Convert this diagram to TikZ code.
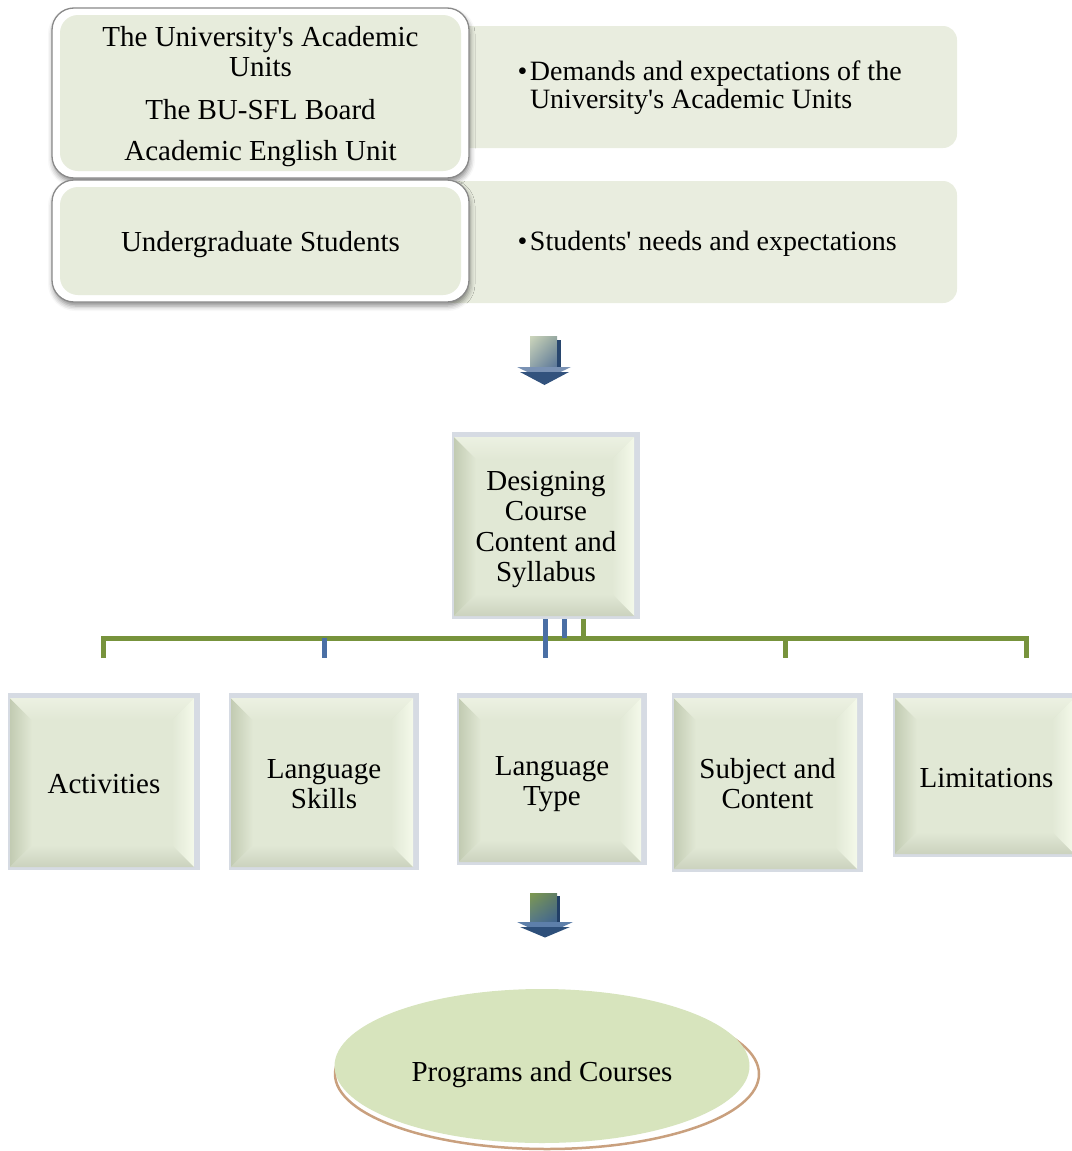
\documentclass[tikz,border=0pt]{standalone}
\usepackage{fontspec}
\setmainfont{Liberation Serif}
\usetikzlibrary{shapes.geometric,shadows.blur,shadings,calc}

\definecolor{needFill}{HTML}{E9EDDF}
\definecolor{srcFill}{HTML}{E7ECDC}
\definecolor{srcBorder}{HTML}{8A8A8A}
\definecolor{bevFrame}{HTML}{D6DBE3}
\definecolor{bevFace}{HTML}{E1E8D5}
\definecolor{bevL}{HTML}{C2CBB2}
\definecolor{bevT}{HTML}{ECF1E2}
\definecolor{bevR}{HTML}{F4F9EA}
\definecolor{bevB}{HTML}{CBD2BE}
\definecolor{busGreen}{HTML}{77933C}
\definecolor{busBlue}{HTML}{4A6FA5}
\definecolor{progFill}{HTML}{D7E4BD}
\definecolor{progEdge}{HTML}{C9A07E}
% down-arrow colours
\definecolor{aUL}{HTML}{CDD6BC}
\definecolor{aUR}{HTML}{96A8A0}
\definecolor{aLL}{HTML}{8CA0A8}
\definecolor{aLR}{HTML}{557298}
\definecolor{aEdge}{HTML}{28466E}
\definecolor{aHeadL}{HTML}{7A92B4}
\definecolor{aHeadD}{HTML}{32527D}
\definecolor{bUL}{HTML}{7E9950}
\definecolor{bUR}{HTML}{607E64}
\definecolor{bLL}{HTML}{56788A}
\definecolor{bLR}{HTML}{3D6290}
\definecolor{bEdge}{HTML}{213F66}
\definecolor{bHeadL}{HTML}{5D7FAA}
\definecolor{bHeadD}{HTML}{2D4F7A}

\newcommand\bigtxt{\fontsize{29}{30.5}\selectfont}
\newcommand\midtxt{\fontsize{28}{28}\selectfont}
\newcommand\apos{\textquotesingle}
\newcommand\bul{\textbullet\hspace{2.5pt}}

\tikzset{
  srcbox/.style={rectangle, rounded corners=22, draw=srcBorder, line width=1.3,
    fill=white, inner sep=0pt,
    blur shadow={shadow xshift=1pt, shadow yshift=-4pt,
      shadow blur radius=5pt, shadow opacity=45},
    path picture={
      \path (path picture bounding box.north west) ++(8,7) coordinate (gA);
      \path (path picture bounding box.south east) ++(-8,-7) coordinate (gC);
      \fill[srcFill, rounded corners=18] (gA) rectangle (gC);
    }},
  needbox/.style={rectangle, rounded corners=14, fill=needFill, inner sep=0pt},
  needtxt/.style={inner sep=0pt, align=left, font=\midtxt, anchor=west},
  boxtxt/.style={inner sep=0pt, align=center, font=\bigtxt},
  bevelbox/.style={rectangle, inner sep=0pt, fill=bevFrame,
    path picture={
      \path (path picture bounding box.north west) ++(2,5) coordinate (fA);
      \path (path picture bounding box.south east) ++(-6,-3) coordinate (fC);
      \path (fA) ++(22,22) coordinate (iA);
      \path (fC) ++(-22,-22) coordinate (iC);
      \fill[bevFace] (fA) rectangle (fC);
      \shade[left color=bevL, right color=bevFace]
        (fA) -- (iA) -- (iA |- iC) -- (fA |- fC) -- cycle;
      \shade[top color=bevT, bottom color=bevFace]
        (fA) -- (fC |- fA) -- (iC |- iA) -- (iA) -- cycle;
      \shade[left color=bevFace, right color=bevR]
        (fC |- fA) -- (fC) -- (iC) -- (iC |- iA) -- cycle;
      \shade[top color=bevFace, bottom color=bevB]
        (fA |- fC) -- (iA |- iC) -- (iC) -- (fC) -- cycle;
    }},
  gline/.style={draw=busGreen, line width=5pt},
  bline/.style={draw=busBlue, line width=5pt},
}

\begin{document}
\begin{tikzpicture}[x=1pt, y=-1pt]
\useasboundingbox (0,0) rectangle (1071,1151);

% needs panels on the right
\node[needbox, minimum width=517, minimum height=122] (demB) at (698.5,87) {};
\node[needbox, minimum width=517, minimum height=122] (stuB) at (698.5,242) {};
\node[needtxt] (demT) at (517.5,87.5)
  {\bul Demands and expectations of the\\\hphantom{\bul}University\apos s Academic Units};
\node[needtxt] (stuT) at (517.5,243.5) {\bul Students\apos{} needs and expectations};

% stakeholder boxes on the left
\node[srcbox, minimum width=417, minimum height=170] (units) at (260.5,93) {};
\node[srcbox, minimum width=417, minimum height=122] (students) at (260.5,241) {};
\node[boxtxt] (unitsT) at ($(units)+(0,3.5)$)
  {The University\apos s Academic\\Units\\[12.5pt]The BU-SFL Board\\[10.5pt]Academic English Unit};
\node[boxtxt] (studentsT) at ($(students)+(0,4)$) {Undergraduate Students};

% first down arrow
\shade[upper left=aUL, upper right=aUR, lower left=aLL, lower right=aLR]
  (530,336) rectangle (557,370);
\fill[aEdge] (557,340) rectangle (561,370);
\fill[aHeadL] (517,367) -- (571,367) -- (544,380) -- cycle;
\fill[aHeadD] (520,372) -- (569,372) -- (544.5,385) -- cycle;

% central design box
\node[bevelbox, minimum width=188, minimum height=187] (design) at (546,525.5) {};
\node[boxtxt] (designT) at ($(design)+(0,4)$) {Designing\\Course\\Content and\\Syllabus};

% component boxes
\node[bevelbox, minimum width=192, minimum height=177] (act) at (104,781.5) {};
\node[bevelbox, minimum width=190, minimum height=177] (lskill) at (324,781.5) {};
\node[bevelbox, minimum width=190, minimum height=172] (ltype) at (552,779) {};
\node[bevelbox, minimum width=191, minimum height=179] (subj) at (767.5,782.5) {};
\node[bevelbox, minimum width=187, minimum height=164] (lim) at (986.5,775) {};
\node[boxtxt] (actT) at ($(act)+(0,3)$) {Activities};
\node[boxtxt] (lskillT) at ($(lskill)+(0,2.5)$) {Language\\Skills};
\node[boxtxt] (ltypeT) at ($(ltype)+(0,5)$) {Language\\Type};
\node[boxtxt] (subjT) at ($(subj)+(0,1)$) {Subject and\\Content};
\node[boxtxt] (limT) at ($(lim)+(0,3)$) {Limitations};

% organisation bus
\coordinate (busL) at (103,638);
\coordinate (busR) at (1026,638);
\coordinate (jA) at (103,658);
\coordinate (jB) at (324,658);
\coordinate (jC) at (545,658);
\coordinate (jD) at (785,658);
\coordinate (jE) at (1026,658);
\coordinate (sB) at (564,638);
\coordinate (sG) at (583,638);
\draw[gline] (jA) -- (busL) -- (busR) -- (jE);
\draw[gline] (busL -| jD) -- (jD);
\draw[gline] (design.south -| sG) -- (sG);
\draw[bline] (design.south -| sB) -- (sB);
\draw[bline] (design.south -| jC) -- (jC);
\draw[bline] (busL -| jB) -- (jB);

% second down arrow
\shade[upper left=bUL, upper right=bUR, lower left=bLL, lower right=bLR]
  (530,893) rectangle (557,923);
\fill[bEdge] (557,896) rectangle (560,923);
\fill[bHeadL] (517,922) -- (573,922) -- (545,935) -- cycle;
\fill[bHeadD] (520,927) -- (570,927) -- (545,937.5) -- cycle;

% outcome
\node[ellipse, minimum width=424, minimum height=150, fill=white, draw=progEdge,
      line width=2.5pt] (progS) at (547,1074) {};
\node[ellipse, minimum width=415, minimum height=154, fill=progFill] (prog) at (542,1066) {};
\node[boxtxt] (progT) at ($(prog)+(0,9)$) {Programs and Courses};
\end{tikzpicture}
\end{document}
